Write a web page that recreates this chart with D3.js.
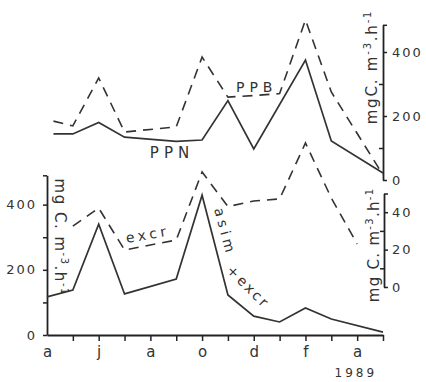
<!DOCTYPE html>
<html><head><meta charset="utf-8">
<script src="https://cdn.jsdelivr.net/npm/d3@7"></script>
<style>html,body{margin:0;padding:0;background:#fff;} svg{display:block;}</style>
</head><body><svg id="c" width="426" height="382"></svg>
<script>
// ---- data ----
const monthLabels = ["a","j","a","o","d","f","a"];
const monthLabelIdx = [0,2,4,6,8,10,12];
const monthTicks = [1,2,3,4,5,6,7,8,9,10,11,12,13];
const yearLabel = "1989";

// top panel (mg C m-3 h-1)
const topX = [0.25,1,2,3,5,6,7,8,10,11,13];
const ppn  = [144,144,180,134,121,125,248,97,375,122,22];
const ppbX = [0.25,1,2,3,5,6,7,8,9,10,11,13];
const ppb  = [184,169,319,150,166,384,259,264,270,500,275,16];

// bottom panel
const botX = [0,1,2,3,5,6,7,8,9,10,11,13];
const asimExcr = [117,138,340,126,172,429,123,58,40,83,49,9];
const excrX = [1,2,3,5,6,7,8,9,10,11,12];
const excr  = [32.6,42.2,19.8,25.1,61.5,43.0,46.0,47.1,77.0,47.6,23.0];

const topTicksMajor = [0,200,400];
const topTicksMinor = [100,300];
const leftTicksLabeled = [0,200,400];
const leftTicksAll = [0,100,200,300,400];
const brTicksMajor = [0,20,40];
const brTicksMinor = [10,30];

// ---- drawing ----
const ink = "#333";
const font = "DejaVu Sans, sans-serif";
const svg = d3.select("#c");

const x = d3.scaleLinear().domain([0,13]).range([47,383]);
const yTop = d3.scaleLinear().domain([0,485]).range([180,24.8]);
const yBL = d3.scaleLinear().domain([0,490]).range([335,175.3]);
const yBR = d3.scaleLinear().domain([0,50]).range([287,193.5]);

function styleAxis(g){
  g.selectAll("path.domain").attr("stroke", "#222").attr("stroke-width", 1.8);
  g.selectAll(".tick line").attr("stroke", "#222").attr("stroke-width", 1.5);
  g.selectAll("text").attr("fill", ink).style("font-family", font).style("font-size","13px").style("letter-spacing","2px");
  g.attr("font-family", null);
}

// top right axis
const trx = x(13);
const trMajor = svg.append("g").attr("transform",`translate(${trx},0)`)
  .call(d3.axisRight(yTop).tickValues(topTicksMajor.concat([485])).tickSize(4).tickSizeOuter(0).tickPadding(5)
  .tickFormat(d => topTicksMajor.includes(d) ? d : ""));
styleAxis(trMajor);
const trMinor = svg.append("g").attr("transform",`translate(${trx},0)`)
  .call(d3.axisLeft(yTop).tickValues(topTicksMinor).tickSize(4).tickSizeOuter(0).tickFormat(""));
styleAxis(trMinor); trMinor.select("path.domain").remove();

// bottom right axis
const brx = x(13) + 1;
const brMajor = svg.append("g").attr("transform",`translate(${brx},0)`)
  .call(d3.axisRight(yBR).tickValues(brTicksMajor.concat([50])).tickSize(4).tickSizeOuter(0).tickPadding(4)
  .tickFormat(d => brTicksMajor.includes(d) ? d : ""));
styleAxis(brMajor);
const brMinor = svg.append("g").attr("transform",`translate(${brx},0)`)
  .call(d3.axisLeft(yBR).tickValues(brTicksMinor).tickSize(4).tickSizeOuter(0).tickFormat(""));
styleAxis(brMinor); brMinor.select("path.domain").remove();

// left axis
const lAxis = svg.append("g").attr("transform",`translate(${x(0)},0)`)
  .call(d3.axisLeft(yBL).tickValues(leftTicksAll.concat([490])).tickSize(4).tickSizeOuter(0).tickPadding(6)
  .tickFormat(d => leftTicksLabeled.includes(d) ? d : ""));
styleAxis(lAxis);

// bottom axis
const bAxis = svg.append("g").attr("transform",`translate(0,${yBL(0)})`)
  .call(d3.axisBottom(x).tickValues(monthTicks).tickSize(6).tickSizeOuter(0).tickFormat(""));
styleAxis(bAxis);
const bLab = svg.append("g").attr("transform",`translate(0,${yBL(0)})`)
  .call(d3.axisBottom(x).tickValues(monthLabelIdx).tickSize(0).tickPadding(11)
  .tickFormat((d,i) => monthLabels[i]));
styleAxis(bLab); bLab.select("path.domain").remove();
bLab.selectAll("text").style("font-size","15px").style("letter-spacing","0px");

// lines
const lineTop = d3.line().x(d=>x(d[0])).y(d=>yTop(d[1]));
const lineBL = d3.line().x(d=>x(d[0])).y(d=>yBL(d[1]));
const lineBR = d3.line().x(d=>x(d[0])).y(d=>yBR(d[1]));

svg.append("path").datum(d3.zip(topX, ppn)).attr("d", lineTop)
  .attr("fill","none").attr("stroke",ink).attr("stroke-width",1.7).attr("stroke-linejoin","miter");
svg.append("path").datum(d3.zip(ppbX, ppb)).attr("d", lineTop)
  .attr("fill","none").attr("stroke",ink).attr("stroke-width",1.6).attr("stroke-dasharray","10,7");
svg.append("path").datum(d3.zip(botX, asimExcr)).attr("d", lineBL)
  .attr("fill","none").attr("stroke",ink).attr("stroke-width",1.7);
svg.append("path").datum(d3.zip(excrX, excr)).attr("d", lineBR)
  .attr("fill","none").attr("stroke",ink).attr("stroke-width",1.6).attr("stroke-dasharray","10,7");

// text labels
function label(txt, px, py, rot, size, ls){
  return svg.append("text").attr("transform",`translate(${px},${py}) rotate(${rot})`)
    .attr("fill",ink).style("font-family",font).style("font-size",size+"px").style("letter-spacing",ls+"px")
    .text(txt);
}
label("PPN", x(3.98), yTop(69), 0, 15, 5);
label("PPB", x(7.31), yTop(275), 0, 14, 5);
label("excr", x(3.09), yBR(23.5), -10, 14, 3.5);
label("asim", x(6.46), yBL(386), 75, 14, 4);
label("+excr", x(6.92), yBL(196), 45, 14, 2.5);

svg.append("text").attr("x", x(11.95)).attr("y", 377).attr("text-anchor","middle")
  .attr("fill",ink).style("font-family",font).style("font-size","12px").style("letter-spacing","3px").text(yearLabel);

// unit titles
function unit(parts, px, py, rot, ls){
  const t = svg.append("text").attr("transform",`translate(${px},${py}) rotate(${rot})`)
    .attr("text-anchor","middle").attr("fill",ink).style("font-family",font).style("font-size","15px")
    .style("letter-spacing",ls+"px");
  let shift = 0;
  parts.forEach(([s, sup]) => {
    const dy = sup ? -6 - shift : -shift;
    shift = sup ? -6 : 0;
    t.append("tspan").attr("dy", dy).style("font-size", sup ? "10px" : "15px").text(s);
  });
  return t;
}
unit([["mgC. m",false],["-3",true],[".h",false],["-1",true]], x(13)-6, yTop(353), -90, 1.8);
unit([["mg C. m",false],["-3",true],[".h",false],["-1",true]], x(0)+8, yBL(300), 90, 1.5);
unit([["mg C. m",false],["-3",true],[".h",false],["-1",true]], x(13)-4, yBR(22.5), -90, 1.3);
</script></body></html>
